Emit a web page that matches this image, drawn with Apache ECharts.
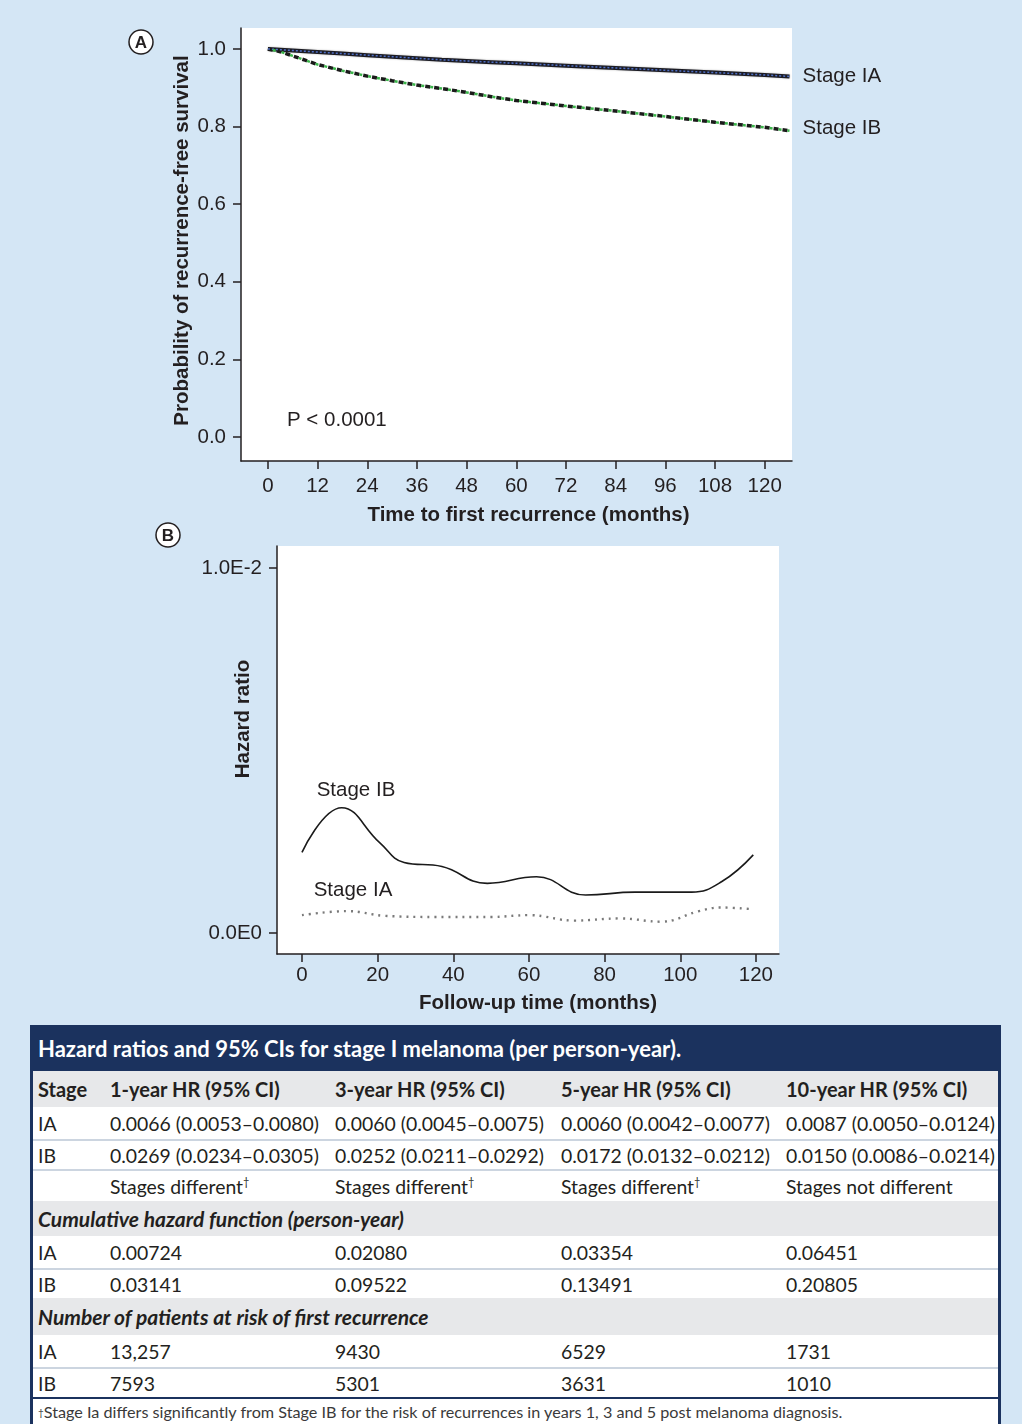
<!DOCTYPE html>
<html>
<head>
<meta charset="utf-8">
<script src="https://cdn.jsdelivr.net/npm/echarts@6/dist/echarts.min.js"></script>
<style>
  body {
    margin: 0;
    width: 1022px;
    height: 1424px;
    background: #d4e6f5;
    position: relative;
    overflow: hidden;
  }
  #chart {
    position: absolute;
    left: 0;
    top: 0;
    width: 1022px;
    height: 1020px;
  }
  #tbl {
    position: absolute;
    left: 30px;
    top: 1025px;
    width: 965px;
    height: 399px;
    border-left: 3px solid #1b325e;
    border-right: 3px solid #1b325e;
    background: #fff;
    font-family: Lato, "Open Sans", sans-serif;
    color: #231f20;
    font-size: 19.4px;
  }
  #tbl .r {
    display: flex;
    align-items: center;
    box-sizing: border-box;
    white-space: nowrap;
  }
  #tbl .r span { display: block; box-sizing: border-box; padding-left: 5px; flex: none; }
  #tbl .title { background: #1b325e; color: #fff; font-weight: bold; font-size: 22px; padding-left: 5px; }
  #tbl .head { background: #e7e8ea; }
  #tbl .bold { font-weight: bold; font-size: 20px; }
  #tbl .section { font-style: italic; font-weight: bold; font-size: 21px; padding-left: 5px; }
  #tbl .sep { border-top: 2px solid #ccd5e0; }
  #tbl sup { font-size: 11px; vertical-align: 8px; line-height: 0; }
  #tbl .foot {
    border-top: 2px solid #1b325e;
    font-size: 16.2px;
    color: #3a3a3a;
    padding-left: 5px;
  }
  #tbl .foot sup { font-size: 10px; vertical-align: 6px; }
</style>
</head>
<body>
<div id="chart"></div>
<div id="tbl"></div>
<script>
// Panel A: recurrence-free survival (Kaplan-Meier)
const survMonths = [0, 3, 6, 9, 12, 15, 18, 24, 30, 36, 42, 48, 54, 60, 72, 84, 96, 108, 120, 126];
const survIA = [1.0, 0.998, 0.996, 0.994, 0.992, 0.990, 0.988, 0.984, 0.980, 0.976, 0.972, 0.969, 0.966, 0.963, 0.957, 0.951, 0.945, 0.939, 0.933, 0.929];
const survIB = [1.0, 0.993, 0.982, 0.971, 0.960, 0.952, 0.944, 0.930, 0.918, 0.907, 0.898, 0.888, 0.877, 0.867, 0.853, 0.840, 0.826, 0.811, 0.798, 0.789];
const survTicks = [0, 12, 24, 36, 48, 60, 72, 84, 96, 108, 120];
const survYTicks = [0, 0.2, 0.4, 0.6, 0.8, 1.0];

// Panel B: smoothed hazard
const hazMonthsIB = [0, 10.5, 20.6, 27, 37, 49, 62, 75, 88, 103, 111, 119.3];
const hazIB = [0.00221, 0.00343, 0.00247, 0.00193, 0.00182, 0.00136, 0.00154, 0.00104, 0.00112, 0.00112, 0.00141, 0.00214];
const hazMonthsIA = [0, 12, 22, 35, 50, 60, 72, 84, 95, 105, 110.5, 119.3];
const hazIA = [0.00049, 0.00060, 0.00047, 0.00044, 0.00044, 0.00049, 0.00034, 0.00040, 0.00031, 0.00060, 0.00070, 0.00065];
const hazTicks = [0, 20, 40, 60, 80, 100, 120];
const hazYTicks = [0, 0.01];

// Table
const tableTitle = 'Hazard ratios and 95% CIs for stage I melanoma (per person-year).';
const hrHeaders = ['Stage', '1-year HR (95% CI)', '3-year HR (95% CI)', '5-year HR (95% CI)', '10-year HR (95% CI)'];
const hrIA = ['0.0066 (0.0053–0.0080)', '0.0060 (0.0045–0.0075)', '0.0060 (0.0042–0.0077)', '0.0087 (0.0050–0.0124)'];
const hrIB = ['0.0269 (0.0234–0.0305)', '0.0252 (0.0211–0.0292)', '0.0172 (0.0132–0.0212)', '0.0150 (0.0086–0.0214)'];
const hrNote = ['Stages different<sup>†</sup>', 'Stages different<sup>†</sup>', 'Stages different<sup>†</sup>', 'Stages not different'];
const cumTitle = 'Cumulative hazard function (person-year)';
const cumIA = ['0.00724', '0.02080', '0.03354', '0.06451'];
const cumIB = ['0.03141', '0.09522', '0.13491', '0.20805'];
const riskTitle = 'Number of patients at risk of first recurrence';
const riskIA = ['13,257', '9430', '6529', '1731'];
const riskIB = ['7593', '5301', '3631', '1010'];
const footnote = '<sup>†</sup>Stage Ia differs significantly from Stage IB for the risk of recurrences in years 1, 3 and 5 post melanoma diagnosis.';

const colWidths = [72, 225, 226, 225, 217];

function buildTable() {
  const row = (cls, h, cells) => '<div class="r ' + cls + '" style="height:' + h + 'px">' +
    cells.map((c, i) => '<span style="width:' + colWidths[i] + 'px">' + c + '</span>').join('') + '</div>';
  const band = (cls, h, text) => '<div class="r ' + cls + '" style="height:' + h + 'px">' + text + '</div>';
  let html = band('title', 46, tableTitle);
  html += row('head bold', 36, hrHeaders);
  html += row('', 32, ['IA'].concat(hrIA));
  html += row('sep', 30, ['IB'].concat(hrIB));
  html += row('sep', 32, [''].concat(hrNote));
  html += band('head section', 35, cumTitle);
  html += row('', 32, ['IA'].concat(cumIA));
  html += row('sep', 30, ['IB'].concat(cumIB));
  html += band('head section', 37, riskTitle);
  html += row('', 32, ['IA'].concat(riskIA));
  html += row('sep', 30, ['IB'].concat(riskIB));
  html += band('foot', 27, footnote);
  document.getElementById('tbl').innerHTML = html;
}
buildTable();

const ink = '#231f20';
const font = '"Liberation Sans", Arial, Helvetica, sans-serif';
const fs = 20.5;
const zip = (xs, ys) => xs.map((x, i) => [x, ys[i]]);

function makeXAxis(gridIndex, min, max, ticks, name, margin, nameGap, shift) {
  return {
    gridIndex, type: 'value', min, max,
    axisLine: { show: true, onZero: false, lineStyle: { color: ink, width: 1.5 } },
    axisTick: { show: true, length: 8, customValues: ticks, lineStyle: { color: ink, width: 1.5 } },
    axisLabel: { customValues: ticks, margin, fontSize: fs, color: ink, fontFamily: font },
    splitLine: { show: false },
    name, nameLocation: 'middle', nameGap, nameMoveOverlap: false,
    nameTextStyle: { fontSize: fs, fontWeight: 'bold', color: ink, fontFamily: font, padding: [0, 0, 0, shift * 2] }
  };
}

function makeYAxis(gridIndex, min, max, ticks, name, nameGap, shift, formatter) {
  return {
    gridIndex, type: 'value', min, max,
    axisLine: { show: true, onZero: false, lineStyle: { color: ink, width: 1.5 } },
    axisTick: { show: true, length: 8, customValues: ticks, lineStyle: { color: ink, width: 1.5 } },
    axisLabel: { customValues: ticks, margin: 15, fontSize: fs, color: ink, fontFamily: font, formatter },
    splitLine: { show: false },
    name, nameLocation: 'middle', nameGap, nameMoveOverlap: false,
    nameTextStyle: { fontSize: fs, fontWeight: 'bold', color: ink, fontFamily: font, padding: [0, 0, 0, shift * 2] }
  };
}

function circled(letter, x, y) {
  return {
    type: 'group', x, y,
    children: [
      { type: 'circle', shape: { cx: 0, cy: 0, r: 12 }, style: { fill: '#fff', stroke: ink, lineWidth: 1.5 } },
      { type: 'text', x: 0, y: 1, style: { text: letter, font: 'bold 17px ' + font, fill: ink, align: 'center', verticalAlign: 'middle' } }
    ]
  };
}

function label(text, x, y, align) {
  return { type: 'text', x, y, style: { text, font: fs + 'px ' + font, fill: ink, align: align || 'center', verticalAlign: 'middle' } };
}

const chart = echarts.init(document.getElementById('chart'));
chart.setOption({
  animation: false,
  grid: [
    { left: 241, top: 28, width: 551, height: 433, show: true, backgroundColor: '#fff', borderWidth: 0 },
    { left: 277, top: 546, width: 502, height: 408, show: true, backgroundColor: '#fff', borderWidth: 0 }
  ],
  xAxis: [
    makeXAxis(0, -6.5, 126.6, survTicks, 'Time to first recurrence (months)', 15, 44, 12),
    makeXAxis(1, -6.6, 126.1, hazTicks, 'Follow-up time (months)', 11, 39, 10)
  ],
  yAxis: [
    makeYAxis(0, -0.062, 1.054, survYTicks, 'Probability of recurrence-free survival', 48, 4, v => v.toFixed(1)),
    makeYAxis(1, -0.000575, 0.0106, hazYTicks, 'Hazard ratio', 23, 31, v => (v === 0 ? '0.0E0' : '1.0E-2'))
  ],
  graphic: [
    circled('A', 141, 42),
    circled('B', 168, 535),
    label('P < 0.0001', 287, 420, 'left'),
    label('Stage IB', 356, 790),
    label('Stage IA', 353, 890)
  ],
  series: [
    {
      name: 'Stage IA', type: 'line', xAxisIndex: 0, yAxisIndex: 0,
      data: zip(survMonths, survIA), showSymbol: false, z: 3,
      lineStyle: { color: '#1c1c24', width: 4, shadowColor: 'rgba(0,0,0,0.3)', shadowBlur: 2 },
      endLabel: { show: true, formatter: 'Stage IA', distance: 13, fontSize: fs, color: ink, fontFamily: font }
    },
    {
      type: 'line', xAxisIndex: 0, yAxisIndex: 0,
      data: zip(survMonths, survIA), showSymbol: false, z: 4,
      lineStyle: { color: '#4f6fc4', width: 1.5, type: [2, 2] }
    },
    {
      name: 'Stage IB', type: 'line', xAxisIndex: 0, yAxisIndex: 0,
      data: zip(survMonths, survIB), showSymbol: false, z: 3,
      lineStyle: { color: '#1a1a1a', width: 3.5, type: [5, 4] },
      endLabel: { show: true, formatter: 'Stage IB', distance: 13, fontSize: fs, color: ink, fontFamily: font, offset: [0, -2] }
    },
    {
      type: 'line', xAxisIndex: 0, yAxisIndex: 0,
      data: zip(survMonths, survIB), showSymbol: false, z: 4,
      lineStyle: { color: '#3bb54a', width: 2.5, type: [3, 6], dashOffset: -5 }
    },
    {
      type: 'line', xAxisIndex: 1, yAxisIndex: 1,
      data: zip(hazMonthsIB, hazIB), showSymbol: false, smooth: 0.45,
      lineStyle: { color: '#1a1a1a', width: 1.6 }
    },
    {
      type: 'line', xAxisIndex: 1, yAxisIndex: 1,
      data: zip(hazMonthsIA, hazIA), showSymbol: false, smooth: 0.4,
      lineStyle: { color: '#7a7a7a', width: 2.4, type: [2, 5] }
    }
  ]
});
</script>
</body>
</html>
